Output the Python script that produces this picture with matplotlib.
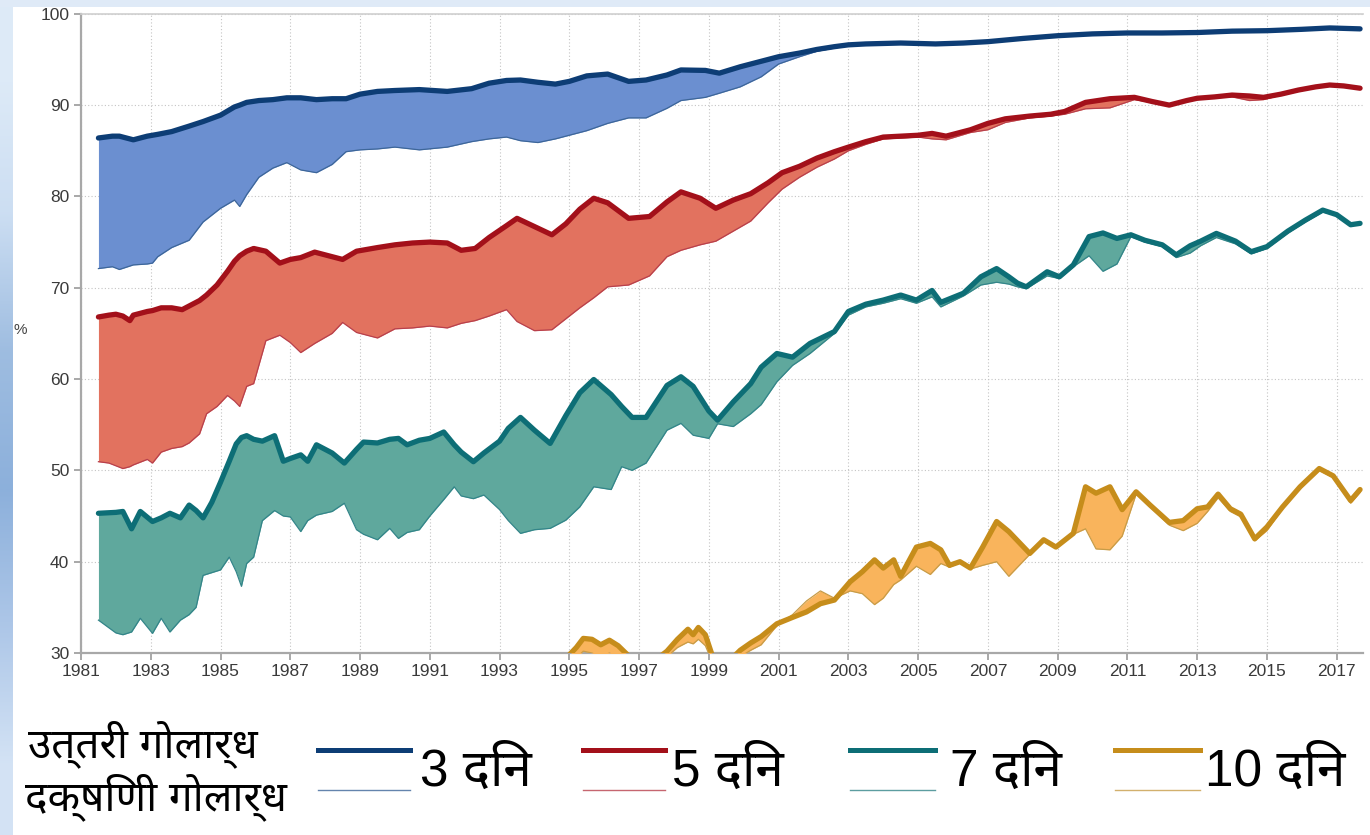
import numpy as np
import matplotlib
matplotlib.use("Agg")
import matplotlib.pyplot as plt
from matplotlib.lines import Line2D
from matplotlib.patches import Rectangle

# ---------------------------------------------------------------------------
# Forecast skill (%) by lead time: northern (NH) and southern (SH) hemisphere
# ---------------------------------------------------------------------------
years3 = [1981.5, 1981.9, 1982.1, 1982.5, 1982.9, 1983.05, 1983.2, 1983.6, 1984.1, 1984.5,
          1985.0, 1985.4, 1985.55, 1985.75, 1986.1, 1986.5, 1986.9, 1987.3, 1987.75, 1988.2,
          1988.6, 1989.0, 1989.5, 1990.0, 1990.7, 1991.5, 1992.2, 1992.7, 1993.2, 1993.6,
          1994.1, 1994.6, 1995.0, 1995.5, 1996.1, 1996.7, 1997.2, 1997.8, 1998.2, 1998.9,
          1999.3, 1999.9, 2000.5, 2001.0, 2001.6, 2002.1, 2002.6, 2003.0, 2003.5, 2004.5,
          2005.5, 2006.3, 2007.0, 2008.0, 2009.0, 2010.0, 2011.0, 2012.0, 2013.0, 2014.0,
          2015.0, 2016.0, 2016.8, 2017.67]
nh3 = [86.4, 86.6, 86.6, 86.2, 86.6, 86.7, 86.8, 87.1, 87.7, 88.2,
       88.9, 89.8, 90.0, 90.3, 90.5, 90.6, 90.8, 90.8, 90.6, 90.7,
       90.7, 91.2, 91.5, 91.6, 91.7, 91.5, 91.8, 92.4, 92.7, 92.75,
       92.5, 92.3, 92.6, 93.2, 93.4, 92.6, 92.75, 93.3, 93.85, 93.8,
       93.5, 94.2, 94.8, 95.3, 95.7, 96.1, 96.4, 96.6, 96.7, 96.8,
       96.7, 96.8, 96.95, 97.3, 97.6, 97.8, 97.9, 97.9, 97.95, 98.1,
       98.15, 98.3, 98.45, 98.35]
sh3 = [72.1, 72.3, 72.0, 72.5, 72.6, 72.7, 73.4, 74.4, 75.2, 77.2,
       78.7, 79.6, 78.9, 80.2, 82.1, 83.1, 83.7, 82.9, 82.6, 83.5,
       84.9, 85.1, 85.2, 85.4, 85.1, 85.4, 86.0, 86.3, 86.5, 86.1,
       85.9, 86.3, 86.7, 87.2, 88.0, 88.6, 88.6, 89.65, 90.5, 90.85,
       91.3, 92.0, 93.1, 94.5, 95.3, 95.9, 96.25, 96.5, 96.6, 96.7,
       96.6, 96.7, 96.85, 97.2, 97.5, 97.7, 97.8, 97.85, 97.9, 98.0,
       98.1, 98.25, 98.4, 98.3]

years5 = [1981.5, 1981.8, 1982.0, 1982.2, 1982.4, 1982.5, 1982.9, 1983.05, 1983.3, 1983.6,
          1983.9, 1984.1, 1984.4, 1984.6, 1984.9, 1985.2, 1985.4, 1985.55, 1985.75, 1985.95,
          1986.3, 1986.7, 1987.0, 1987.3, 1987.7, 1988.2, 1988.5, 1988.9, 1989.5, 1990.0,
          1990.5, 1991.0, 1991.5, 1991.9, 1992.3, 1992.7, 1993.2, 1993.5, 1994.0, 1994.5,
          1994.9, 1995.3, 1995.7, 1996.1, 1996.7, 1997.3, 1997.8, 1998.2, 1998.75, 1999.2,
          1999.7, 2000.2, 2000.7, 2001.1, 2001.6, 2002.1, 2002.6, 2003.0, 2003.5, 2004.0,
          2004.5, 2005.0, 2005.4, 2005.8, 2006.5, 2007.0, 2007.5, 2008.2, 2008.8, 2009.2,
          2009.8, 2010.5, 2011.2, 2011.7, 2012.2, 2012.7, 2013.0, 2013.5, 2014.0, 2014.5,
          2014.9, 2015.4, 2015.9, 2016.4, 2016.8, 2017.2, 2017.67]
nh5 = [66.8, 67.0, 67.1, 66.9, 66.4, 67.0, 67.4, 67.5, 67.8, 67.8,
       67.6, 68.0, 68.6, 69.2, 70.3, 71.8, 72.9, 73.5, 74.0, 74.3,
       74.0, 72.7, 73.1, 73.3, 73.9, 73.4, 73.1, 74.0, 74.4, 74.7,
       74.9, 75.0, 74.9, 74.1, 74.3, 75.5, 76.8, 77.6, 76.7, 75.8,
       77.0, 78.6, 79.8, 79.3, 77.6, 77.8, 79.4, 80.5, 79.8, 78.7,
       79.6, 80.3, 81.5, 82.6, 83.3, 84.2, 84.9, 85.4, 86.0, 86.5,
       86.6, 86.7, 86.9, 86.6, 87.3, 88.0, 88.5, 88.8, 89.0, 89.3,
       90.3, 90.7, 90.85, 90.4, 90.0, 90.5, 90.75, 90.9, 91.1, 91.0,
       90.85, 91.2, 91.65, 92.0, 92.2, 92.1, 91.85]
sh5 = [50.95, 50.8, 50.5, 50.2, 50.4, 50.6, 51.2, 50.8, 52.0, 52.4,
       52.6, 53.0, 54.0, 56.2, 57.0, 58.2, 57.6, 57.0, 59.2, 59.5,
       64.2, 64.8, 64.0, 62.9, 63.9, 65.0, 66.2, 65.1, 64.5, 65.5,
       65.6, 65.8, 65.6, 66.1, 66.4, 66.9, 67.6, 66.3, 65.3, 65.4,
       66.6, 67.8, 68.9, 70.1, 70.3, 71.3, 73.4, 74.1, 74.7, 75.1,
       76.2, 77.3, 79.3, 80.8, 82.1, 83.2, 84.1, 85.0, 85.7, 86.3,
       86.4, 86.5, 86.3, 86.2, 87.0, 87.3, 88.1, 88.6, 88.8, 89.0,
       89.6, 89.7, 90.6, 90.3, 89.9, 90.4, 90.6, 90.8, 90.9, 90.5,
       90.6, 91.1, 91.5, 91.9, 92.1, 92.0, 91.8]

years7 = [1981.5, 1982.0, 1982.2, 1982.45, 1982.7, 1983.05, 1983.3, 1983.55, 1983.85, 1984.1,
          1984.3, 1984.5, 1984.75, 1985.0, 1985.25, 1985.45, 1985.6, 1985.75, 1985.95, 1986.2,
          1986.55, 1986.8, 1987.0, 1987.3, 1987.5, 1987.75, 1988.2, 1988.55, 1988.9, 1989.1,
          1989.5, 1989.85, 1990.1, 1990.35, 1990.7, 1991.0, 1991.4, 1991.7, 1991.9, 1992.25,
          1992.55, 1993.0, 1993.25, 1993.6, 1994.0, 1994.45, 1994.9, 1995.3, 1995.7, 1996.2,
          1996.5, 1996.8, 1997.2, 1997.8, 1998.2, 1998.55, 1999.0, 1999.25, 1999.7, 2000.2,
          2000.5, 2000.95, 2001.4, 2001.9, 2002.6, 2003.0, 2003.5, 2004.0, 2004.5, 2004.95,
          2005.4, 2005.65, 2006.3, 2006.8, 2007.25, 2007.6, 2007.85, 2008.1, 2008.7, 2009.05,
          2009.45, 2009.9, 2010.3, 2010.7, 2011.1, 2011.5, 2012.0, 2012.4, 2012.8, 2013.1,
          2013.55, 2014.1, 2014.55, 2015.0, 2015.6, 2016.1, 2016.6, 2017.0, 2017.4, 2017.67]
nh7 = [45.3, 45.4, 45.5, 43.6, 45.5, 44.4, 44.8, 45.3, 44.8, 46.2,
       45.6, 44.8, 46.5, 48.7, 51.0, 52.9, 53.6, 53.8, 53.4, 53.2,
       53.8, 51.0, 51.3, 51.7, 51.0, 52.8, 51.9, 50.8, 52.3, 53.1,
       53.0, 53.4, 53.5, 52.8, 53.3, 53.5, 54.2, 52.8, 52.0, 50.95,
       51.9, 53.2, 54.6, 55.8, 54.4, 52.95, 56.0, 58.5, 59.95, 58.3,
       57.0, 55.8, 55.8, 59.3, 60.25, 59.2, 56.5, 55.5, 57.5, 59.5,
       61.3, 62.8, 62.4, 63.9, 65.2, 67.4, 68.2, 68.65, 69.2, 68.65,
       69.7, 68.4, 69.4, 71.2, 72.1, 71.2, 70.5, 70.1, 71.75, 71.2,
       72.5, 75.6, 76.0, 75.4, 75.8, 75.2, 74.7, 73.6, 74.6, 75.1,
       75.95, 75.1, 73.95, 74.5, 76.2, 77.4, 78.5, 78.0, 76.9, 77.05]
sh7 = [33.6, 32.2, 32.0, 32.3, 33.8, 32.15, 33.8, 32.3, 33.6, 34.2,
       35.0, 38.5, 38.8, 39.1, 40.5, 38.9, 37.3, 39.8, 40.5, 44.5,
       45.6, 45.0, 44.9, 43.3, 44.5, 45.1, 45.5, 46.4, 43.5, 43.0,
       42.4, 43.65, 42.55, 43.2, 43.5, 45.0, 46.8, 48.2, 47.2, 46.9,
       47.3, 45.7, 44.5, 43.1, 43.5, 43.65, 44.55, 46.0, 48.2, 47.9,
       50.4, 50.0, 50.8, 54.4, 55.15, 53.85, 53.5, 55.1, 54.8, 56.2,
       57.2, 59.7, 61.5, 62.8, 65.0, 67.0, 67.9, 68.3, 68.8, 68.3,
       69.0, 67.9, 69.1, 70.3, 70.6, 70.4, 70.1, 69.9, 71.3, 71.0,
       72.3, 73.5, 71.8, 72.6, 75.6, 75.0, 74.5, 73.3, 73.8, 74.6,
       75.5, 74.8, 73.7, 74.3, 76.0, 77.2, 78.3, 77.9, 76.8, 76.9]

years10 = [1994.6, 1995.0, 1995.2, 1995.4, 1995.65, 1995.9, 1996.15, 1996.4, 1996.75, 1997.1,
           1997.5, 1997.8, 1998.1, 1998.4, 1998.55, 1998.7, 1998.9, 1999.1, 1999.5, 1999.9,
           2000.2, 2000.5, 2000.95, 2001.4, 2001.8, 2002.2, 2002.6, 2003.05, 2003.4, 2003.75,
           2004.0, 2004.3, 2004.5, 2004.95, 2005.35, 2005.65, 2005.9, 2006.2, 2006.5, 2006.85,
           2007.25, 2007.6, 2008.2, 2008.6, 2008.95, 2009.45, 2009.8, 2010.1, 2010.5, 2010.85,
           2011.25, 2011.65, 2012.2, 2012.6, 2013.0, 2013.3, 2013.6, 2013.95, 2014.25, 2014.65,
           2015.0, 2015.45, 2015.95, 2016.5, 2016.9, 2017.4, 2017.67]
nh10 = [28.5, 29.8, 30.6, 31.6, 31.5, 30.9, 31.4, 30.8, 29.5, 28.8,
        29.3, 30.2, 31.5, 32.6, 32.0, 32.8, 32.0, 29.7, 28.8, 30.3,
        31.1, 31.8, 33.2, 33.9, 34.5, 35.4, 35.8, 37.8, 38.9, 40.2,
        39.3, 40.2, 38.4, 41.6, 42.0, 41.3, 39.6, 40.0, 39.3, 41.6,
        44.4, 43.3, 40.9, 42.4, 41.6, 43.1, 48.2, 47.5, 48.2, 45.7,
        47.65, 46.2, 44.3, 44.5, 45.8, 46.0, 47.4, 45.8, 45.2, 42.5,
        43.8, 46.0, 48.2, 50.2, 49.4, 46.7, 47.9]
sh10 = [28.0, 29.0, 29.5, 30.2, 30.0, 29.6, 30.0, 29.5, 28.5, 28.0,
        28.6, 29.6, 30.6, 31.2, 31.0, 31.5, 30.8, 29.0, 28.2, 29.6,
        30.3, 30.9, 33.0, 34.2, 35.7, 36.8, 36.0, 36.8, 36.5, 35.3,
        36.0, 37.5, 38.0, 39.5, 38.6, 39.8, 39.4, 39.9, 39.2, 39.6,
        40.0, 38.4, 40.8, 42.2, 41.5, 43.0, 43.6, 41.4, 41.3, 42.8,
        47.4, 46.0, 44.0, 43.4, 44.2, 45.5, 47.0, 45.5, 44.9, 42.3,
        43.4, 45.8, 48.0, 50.0, 49.2, 46.4, 47.6]

lead_labels = ["3 दिन", "5 दिन", "7 दिन", "10 दिन"]
nh_label = "उत्तरी गोलार्ध"
sh_label = "दक्षिणी गोलार्ध"
x_ticks = list(range(1981, 2018, 2))
y_ticks = list(range(30, 101, 10))

# line / fill colours per lead time
line_cols = ["#0d3d75", "#a3101a", "#0d6e76", "#c68d1b"]
thin_cols = ["#3d6699", "#b8404c", "#338589", "#c79c48"]
fill_cols = ["#6b8fd0", "#e2725f", "#5fa89d", "#f9b45c"]

# Latin digits from an Arial-metric face, Devanagari from Noto
text_family = ["Liberation Sans", "Noto Sans Devanagari", "DejaVu Sans"]

W, H = 1370, 835
fig = plt.figure(figsize=(W / 100, H / 100), dpi=100)
fig.patch.set_facecolor("#dfeaf7")

# white panel and the bluish strip to its left
fig.add_artist(Rectangle((12 / W, 0), 1 - 12 / W, (H - 7) / H,
                         transform=fig.transFigure, facecolor="white",
                         edgecolor="none", zorder=0))
strip = fig.add_axes([0, 0, 12 / W, (H - 7) / H], zorder=0)
grad = np.array([[0.87, 0.92, 0.97], [0.80, 0.87, 0.95], [0.62, 0.74, 0.88],
                 [0.55, 0.69, 0.86], [0.68, 0.78, 0.91], [0.83, 0.89, 0.96]])
strip.imshow(grad[:, None, :], aspect="auto", interpolation="bilinear",
             extent=(0, 1, 0, 1))
strip.set_axis_off()

x0, x1 = 81, 1363
y_top, y_bot = 13.8, 653
px_per_year = 34.88
ax = fig.add_axes([x0 / W, (H - y_bot) / H, (x1 - x0) / W, (y_bot - y_top) / H], zorder=2)
ax.set_facecolor("none")

series = [(years3, nh3, sh3), (years5, nh5, sh5), (years7, nh7, sh7), (years10, nh10, sh10)]
for i, (yrs, nh, sh) in enumerate(series):
    ax.fill_between(yrs, nh, sh, color=fill_cols[i], linewidth=0, zorder=3)
    ax.plot(yrs, sh, color=thin_cols[i], lw=0.9, zorder=4)
    ax.plot(yrs, nh, color=line_cols[i], lw=3.8, solid_joinstyle="round",
            solid_capstyle="round", zorder=5)

ax.set_xlim(1981, 1981 + (x1 - x0) / px_per_year)
ax.set_ylim(30, 100)
ax.set_xticks(x_ticks)
ax.set_yticks(y_ticks)
ax.tick_params(axis="both", colors="#9a9a9a", labelcolor="#3a3a3a", labelsize=12.5,
               length=5, width=1.2, direction="out")
ax.tick_params(axis="x", pad=3)
for lbl in ax.get_xticklabels() + ax.get_yticklabels():
    lbl.set_family("Liberation Sans")
ax.grid(True, linestyle=(0, (1, 2)), color="#c4c4c4", lw=0.8, zorder=1)
ax.set_axisbelow(True)
for side in ("left", "bottom"):
    ax.spines[side].set_color("#a8a8a8")
    ax.spines[side].set_linewidth(1.6)
ax.spines["top"].set_color("#cfcfcf")
ax.spines["top"].set_linewidth(1.2)
ax.spines["right"].set_visible(False)

fig.text(13 / W, 1 - 330 / H, "%", fontsize=11, color="#444444",
         family="Liberation Sans", va="center", ha="left")

# legend: hemisphere labels on the left, thick/thin line pairs per lead time
fig.text(28 / W, 1 - 744 / H, nh_label, fontsize=30.5, family=text_family,
         color="black", ha="left", va="center")
fig.text(25 / W, 1 - 797 / H, sh_label, fontsize=30.5, family=text_family,
         color="black", ha="left", va="center")
leg_x = [(318, 410, 420), (583, 665, 672), (850, 935, 950), (1115, 1200, 1205)]
for i, (lx0, lx1, tx) in enumerate(leg_x):
    fig.add_artist(Line2D([lx0 / W, lx1 / W], [1 - 750 / H] * 2, color=line_cols[i],
                          lw=3.6, transform=fig.transFigure))
    fig.add_artist(Line2D([lx0 / W, lx1 / W], [1 - 790 / H] * 2, color=thin_cols[i],
                          lw=1.0, alpha=0.8, transform=fig.transFigure))
    fig.text(tx / W, 1 - 772 / H, lead_labels[i], fontsize=37, family=text_family,
             color="black", ha="left", va="center")

fig.savefig("out.png", dpi=100, facecolor=fig.get_facecolor())
